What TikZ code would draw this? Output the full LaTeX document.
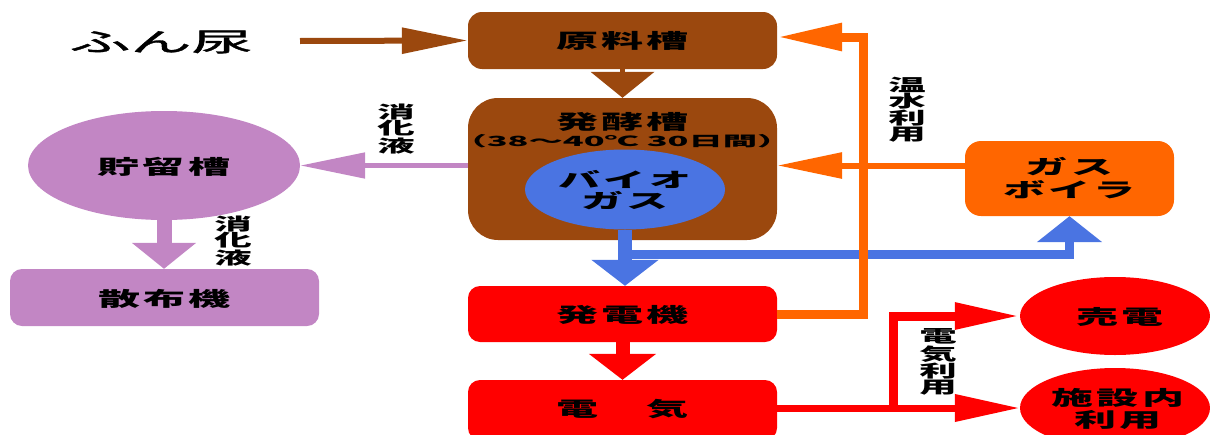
\documentclass[tikz,border=0pt]{standalone}
\usepackage{fontspec}
\newfontfamily\jp{Noto Sans CJK JP}[LetterSpace=8]
\newfontfamily\jpv{Noto Sans CJK JP}
\newfontfamily\jpm{Noto Sans CJK JP}[FakeBold=1.2]
\usetikzlibrary{arrows.meta,shapes.geometric}
\definecolor{cbrown}{RGB}{155,72,14}
\definecolor{cpurp}{RGB}{194,134,196}
\definecolor{cblue}{RGB}{74,116,226}
\definecolor{corange}{RGB}{255,102,0}
\definecolor{cred}{RGB}{255,0,0}
\tikzset{
  box/.style={rectangle, rounded corners=#1, inner sep=0pt, minimum width=309pt},
  oval/.style={ellipse, inner sep=0pt},
  lbl/.style={inner sep=0pt, font=\jp\bfseries\fontsize{20}{20}\selectfont, xscale=2.1},
  small/.style={inner sep=0pt, font=\jpv\bfseries\fontsize{14}{14}\selectfont, xscale=2.45},
  vlbl/.style={inner sep=0pt, align=center, font=\jpv\bfseries\fontsize{17}{16}\selectfont, xscale=2.2},
}
\begin{document}
\begin{tikzpicture}[x=1pt,y=-1pt]
\useasboundingbox (0,0) rectangle (1210,434);
% ---- shapes
\node[box=14pt, fill=cbrown, minimum height=57pt] (genryo) at (622.5,40.5) {};
\node[box=30pt, fill=cbrown, minimum height=142pt] (hakko) at (622.5,169) {};
\node[oval, fill=cblue, minimum width=200pt, minimum height=80pt] (gas) at (625,189.5) {};
\node[box=12pt, fill=cred, minimum height=56pt] (hatsuden) at (622.5,314) {};
\node[box=12pt, fill=cred, minimum height=60pt] (denki) at (622.5,410) {};
\node[box=16pt, fill=corange, minimum width=209pt, minimum height=75pt] (boiler) at (1069.5,178.5) {};
\node[oval, fill=cpurp, minimum width=272pt, minimum height=109pt] (choryu) at (164,165.5) {};
\node[box=12pt, fill=cpurp, minimum height=57pt] (sanpu) at (164.5,297.5) {};
\node[oval, fill=cred, minimum width=190pt, minimum height=78pt] (baiden) at (1115,316) {};
\node[oval, fill=cred, minimum width=190pt, minimum height=80pt] (shisetsu) at (1115,408) {};
% ---- helper coordinates
\coordinate (fstart) at (300,41);
\coordinate (bj) at (625,254);
\coordinate (oc) at (863,37);
\coordinate (ob) at (965,165.5);
\coordinate (rj) at (893,408);
% ---- connectors
\draw[cbrown, line width=6pt, -{Triangle[length=66pt,width=25pt]}] (fstart) -- (genryo.west);
\draw[cbrown, line width=5pt, -{Triangle[length=26pt,width=63pt]}] (genryo.south) -- (hakko.north);
\draw[cpurp, line width=5pt, -{Triangle[length=65pt,width=25pt]}] (hakko.west |- choryu.east) -- (choryu.east);
\draw[cpurp, line width=15pt, -{Triangle[length=26pt,width=63pt]}] (choryu.south) -- (choryu.south |- sanpu.north);
\draw[cblue, line width=14pt, -{Triangle[length=26pt,width=66pt]}] (gas.south) -- (gas.south |- hatsuden.north);
\draw[cblue, line width=9pt, -{Triangle[length=26pt,width=64pt]}] (bj) -| (boiler.south);
\draw[cred, line width=14pt, -{Triangle[length=26pt,width=66pt]}] (hatsuden.south) -- (denki.north);
\draw[corange, line width=9pt, -{Triangle[length=65pt,width=26pt]}] (hatsuden.east) -| (oc) -- (genryo.east |- oc);
\draw[corange, line width=6pt, -{Triangle[length=65pt,width=25pt]}] (ob) -- (hakko.east |- ob);
\draw[cred, line width=7pt, -{Triangle[length=65pt,width=26pt]}] (denki.east |- rj) -- (shisetsu.west |- rj);
\draw[cred, line width=9pt, -{Triangle[length=65pt,width=25pt]}] (rj) |- (baiden.west);
% ---- texts
\node[inner sep=0pt, font=\jpm\fontsize{26}{26}\selectfont, xscale=2.35] (funnyo) at (161,42) {ふん尿};
\node[lbl] (tgenryo) at (622.5,41) {原料槽};
\node[lbl] (thakko) at (622.5,122) {発酵槽};
\node[small] (tcond) at (622,141) {（38～40℃ 30日間）};
\node[lbl] (tgas1) at (625,179.5) {バイオ};
\node[lbl] (tgas2) at (625,200.5) {ガス};
\node[lbl] (thatsu) at (622.5,315) {発電機};
\node[lbl] (tdenki) at (622.5,409) {電　気};
\node[lbl] (tboil1) at (1069.5,167) {ガス};
\node[lbl] (tboil2) at (1069.5,190) {ボイラ};
\node[lbl] (tchoryu) at (164,167) {貯留槽};
\node[lbl] (tsanpu) at (164.5,299) {散布機};
\node[lbl] (tbaiden) at (1120,317) {売電};
\node[lbl] (tshi1) at (1118,398) {施設内};
\node[lbl] (tshi2) at (1118,420) {利用};
\node[vlbl] (v1) at (396,129) {消\\化\\液};
\node[vlbl] (v2) at (233,241) {消\\化\\液};
\node[vlbl] (v3) at (907,110) {温\\水\\利\\用};
\node[vlbl] (v4) at (938,362) {電\\気\\利\\用};
\end{tikzpicture}
\end{document}
